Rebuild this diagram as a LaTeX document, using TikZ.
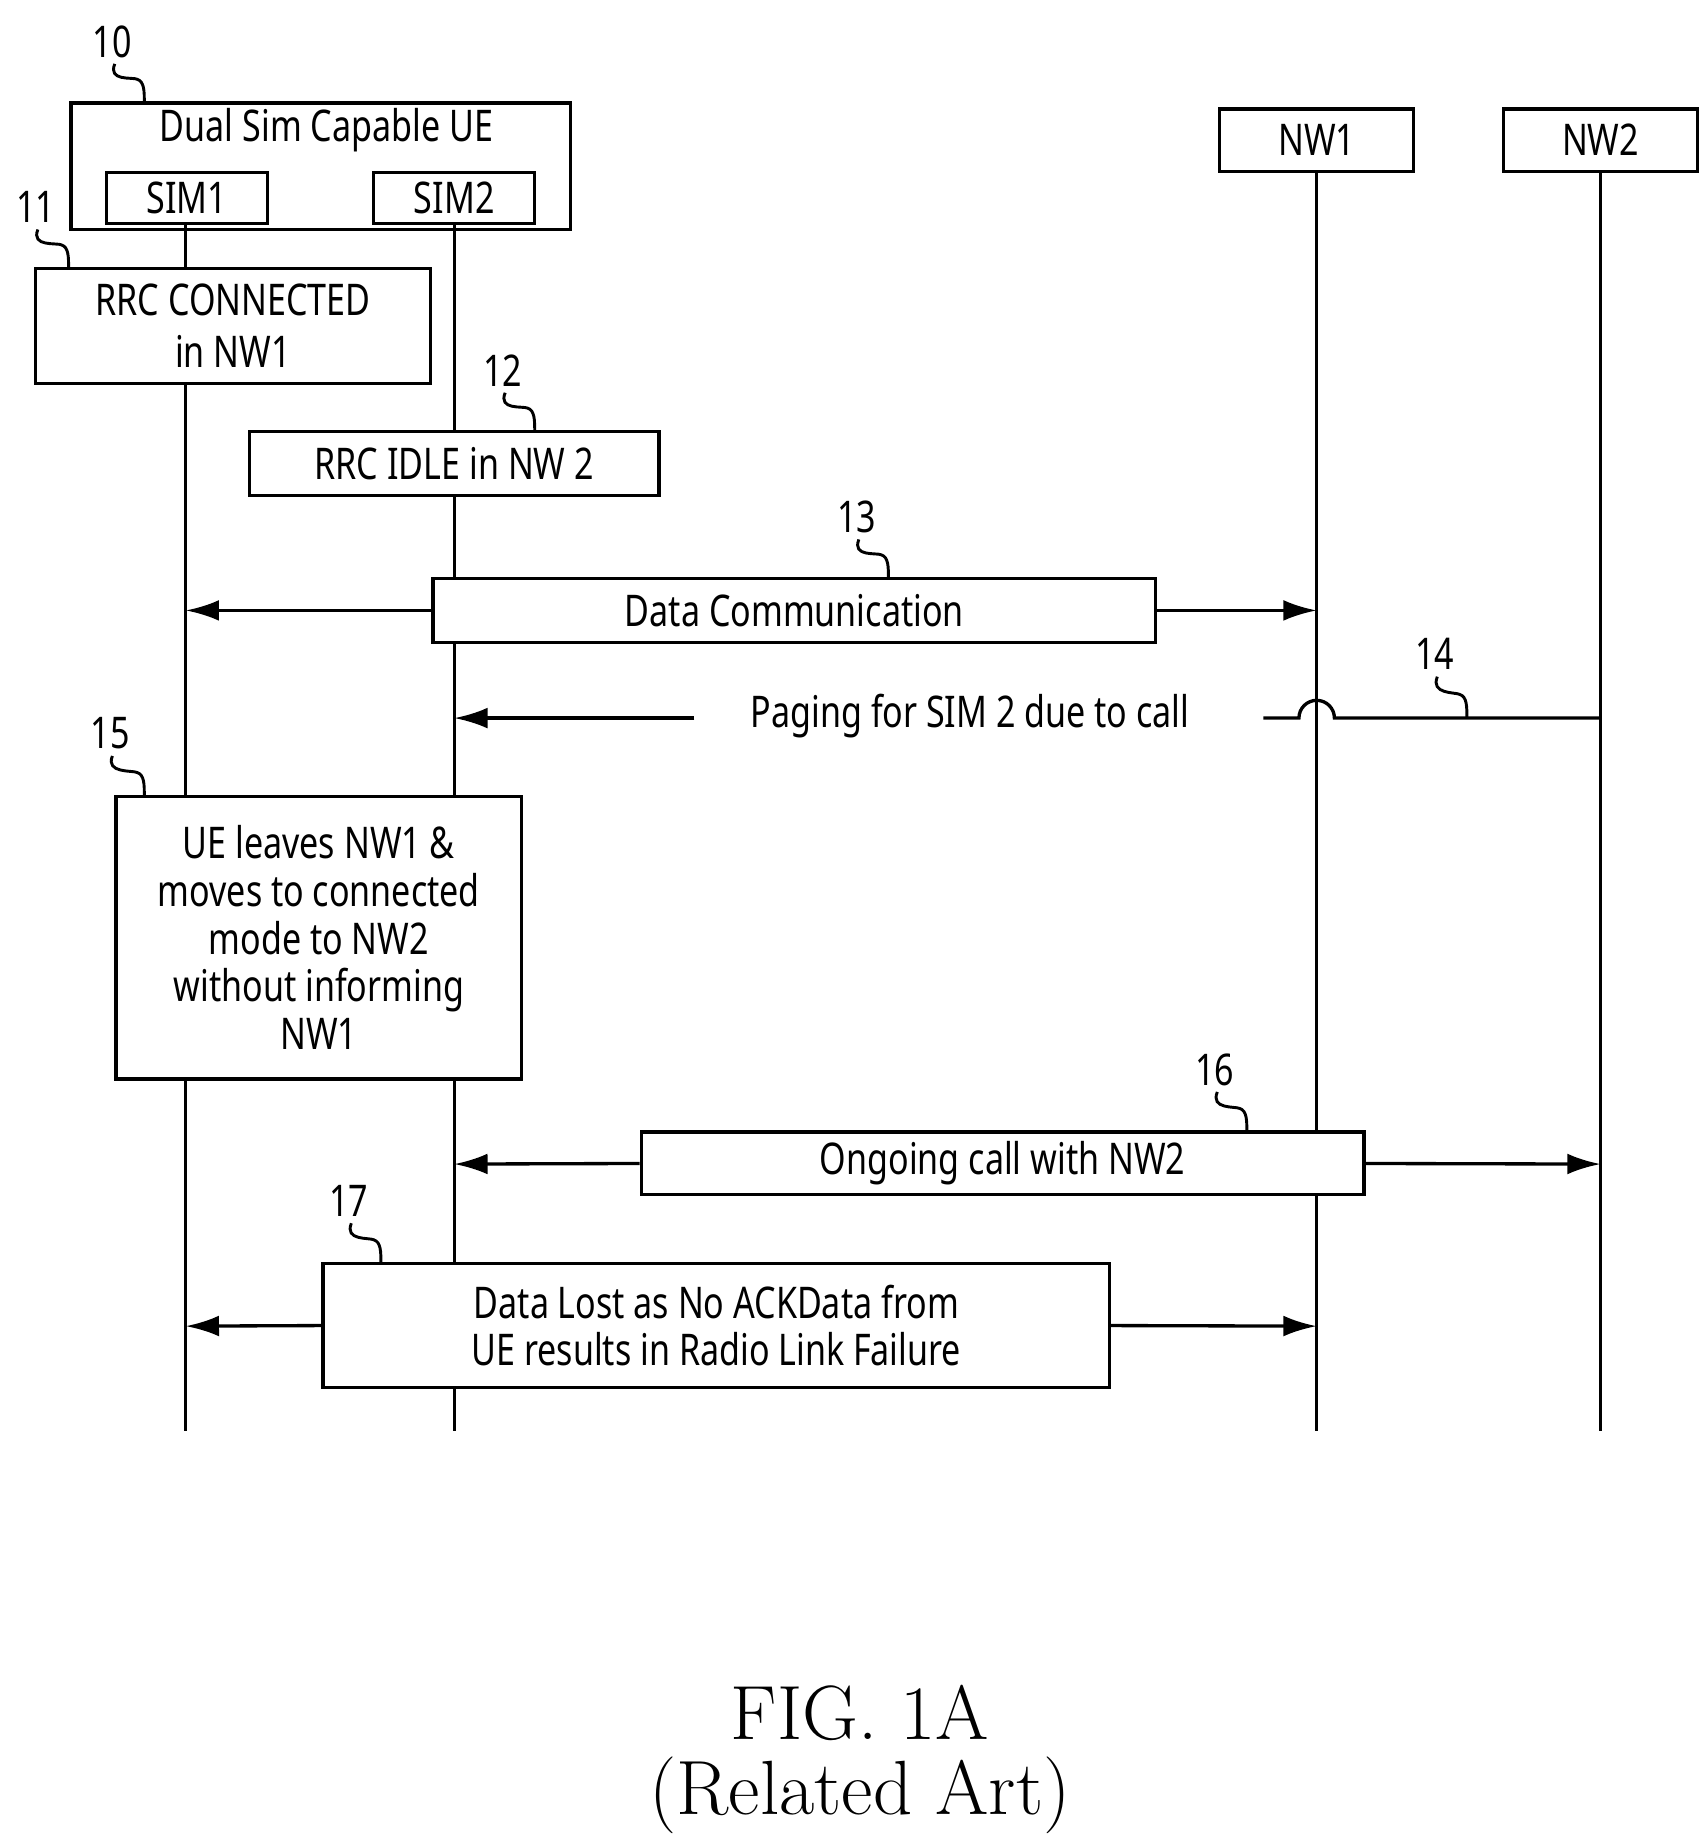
\documentclass[tikz,border=0pt]{standalone}
\usepackage{fontspec}
\setsansfont{Noto Sans}[FakeStretch=0.78]
\usetikzlibrary{arrows.meta}
\begin{document}
\begin{tikzpicture}[x=0.02cm,y=-0.02cm,
  box/.style={draw,line width=1.6pt,fill=white,inner sep=0pt,font=\sffamily\fontsize{21}{25}\selectfont,align=center},
  lbl/.style={font=\sffamily\fontsize{21}{25}\selectfont,inner sep=1pt},
  life/.style={line width=1.6pt},
  msg/.style={line width=1.6pt,-{Latex[length=16pt,width=10pt]}},
  sq/.style={line width=1.4pt}]
\useasboundingbox (0,0) rectangle (1440,1552);
% lifelines
\coordinate (s1t) at (157,189); \coordinate (s1b) at (157,1210);
\coordinate (s2t) at (384,189); \coordinate (s2b) at (384,1210);
\coordinate (n1t) at (1113,145); \coordinate (n1b) at (1113,1210);
\coordinate (n2t) at (1353,145); \coordinate (n2b) at (1353,1210);
\draw[life] (s1t)--(s1b); \draw[life] (s2t)--(s2b);
\draw[life] (n1t)--(n1b); \draw[life] (n2t)--(n2b);
% top boxes
\draw[line width=1.6pt] (60,87) rectangle (482,194);
\node[lbl] (ue) at (276,110) {Dual Sim Capable UE};
\draw[line width=1.6pt,fill=white] (90,146) rectangle (226,189);
\node[lbl] (t1) at (158,167) {SIM1};
\draw[line width=1.6pt,fill=white] (316,146) rectangle (452,189);
\node[lbl] (t2) at (384,167) {SIM2};
\draw[line width=1.6pt] (1031,92) rectangle (1195,145);
\node[lbl] (nw1) at (1113,118) {NW1};
\draw[line width=1.6pt] (1271,92) rectangle (1435,145);
\node[lbl] (nw2) at (1353,118) {NW2};
% step boxes
\node[box,minimum width=6.68cm,minimum height=1.94cm] (b11) at (197,275.5) {RRC CONNECTED\\in NW1};
\node[box,minimum width=6.92cm,minimum height=1.08cm] (b12) at (384,392) {RRC IDLE in NW 2};
\node[box,minimum width=12.22cm,minimum height=1.08cm] (b13) at (671.5,516) {Data Communication};
\node[box,minimum width=6.86cm,minimum height=4.78cm,font=\sffamily\fontsize{21}{23}\selectfont] (b15) at (269.5,792.5) {UE leaves NW1 \&\\moves to connected\\mode to NW2\\without informing\\NW1};
\node[box,minimum width=12.22cm,minimum height=1.06cm] (b16) at (847.5,983.5) {Ongoing call with NW2};
\node[box,minimum width=13.3cm,minimum height=2.1cm,font=\sffamily\fontsize{21}{23}\selectfont] (b17) at (605.5,1120.5) {Data Lost as No ACKData from\\UE results in Radio Link Failure};
% messages
\coordinate (m13a) at (157,516); \coordinate (m13b) at (1113,516);
\draw[msg] (b13.west) -- (m13a); \draw[msg] (b13.east) -- (m13b);
\node[lbl] (pg) at (820,605) {Paging for SIM 2 due to call};
\coordinate (p1) at (587,607); \coordinate (p2) at (384,607);
\coordinate (p3) at (1068,607); \coordinate (p4) at (1353,607);
\draw[msg] (p1) -- (p2);
\draw[line width=1.6pt] (p4) -- (1128,607) arc (0:-180:15) -- (p3);
\coordinate (m16a) at (384,984); \coordinate (m16b) at (1353,984);
\draw[msg] (b16.west) -- (m16a); \draw[msg] (b16.east) -- (m16b);
\coordinate (m17a) at (157,1121); \coordinate (m17b) at (1113,1121);
\draw[msg] (b17.west) -- (m17a); \draw[msg] (b17.east) -- (m17b);
% reference labels
\foreach \n/\x/\y/\ex/\ey in {10/95/35/122/87, 11/30/175/58/227, 12/425/313/452/365, 13/724/437/751/489, 14/1213/553/1240/607, 15/93/620/122/673, 16/1027/904/1054/957, 17/295/1015/322/1068}{
  \node[lbl] (r\n) at (\x,\y) {\n};
  \draw[sq] (\x+2,\y+19) .. controls (\x-4,\y+34) and (\ex-10,\ey-22) .. (\ex-6,\ey-20) .. controls (\ex,\ey-18) and (\ex,\ey-10) .. (\ex,\ey);
}
\node[font=\rmfamily\fontsize{37}{44}\selectfont] (fig) at (727,1448) {FIG. 1A};
\node[font=\rmfamily\fontsize{37}{44}\selectfont] (rel) at (727,1518) {(Related Art)};
\end{tikzpicture}
\end{document}
